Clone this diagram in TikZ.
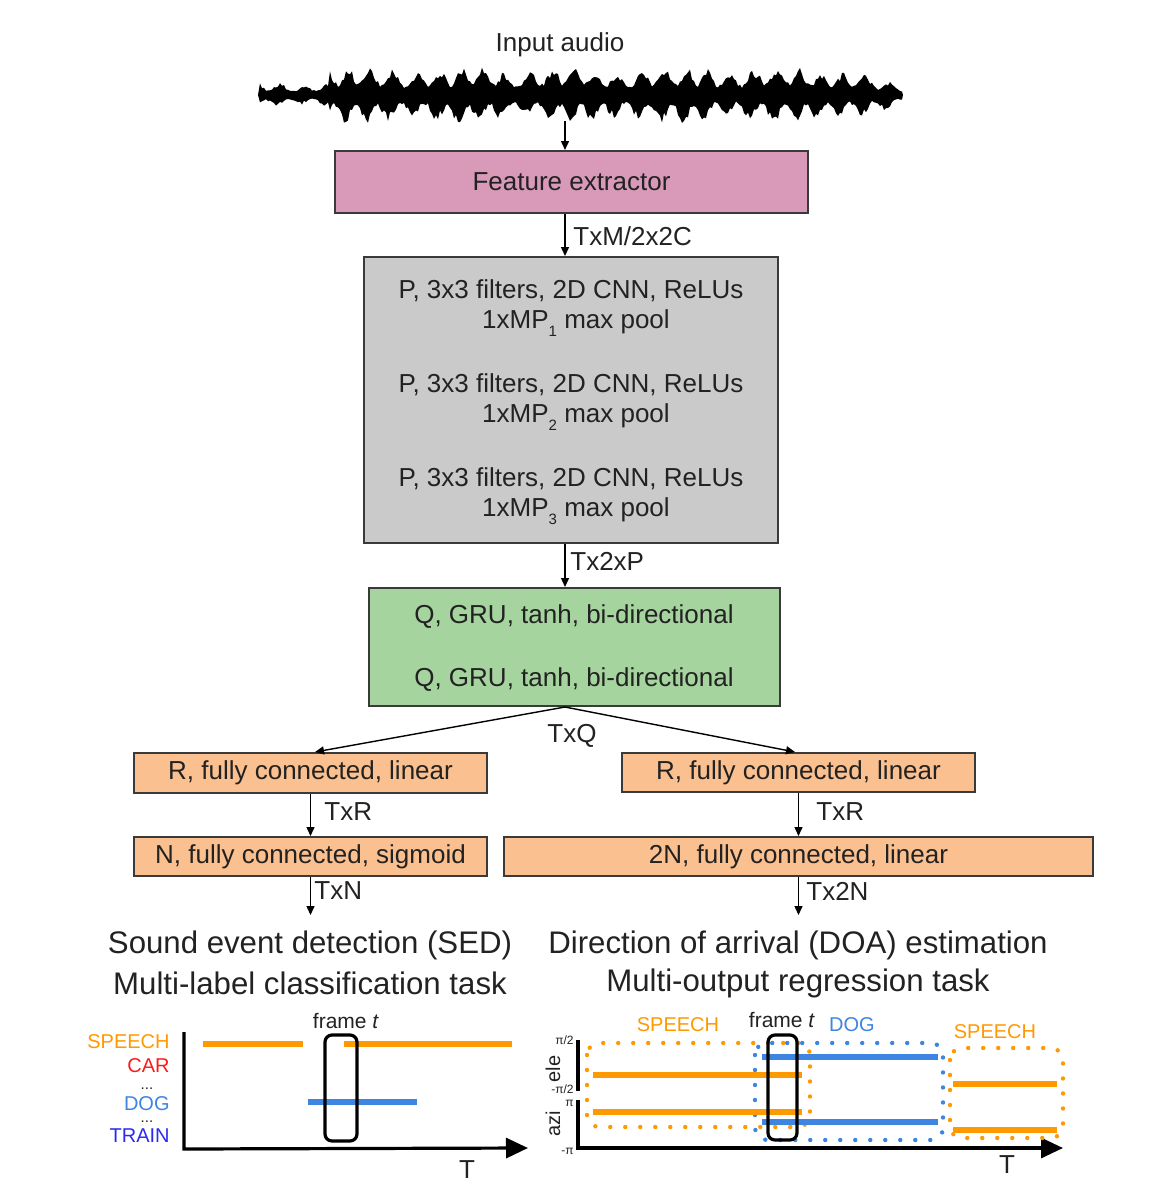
\documentclass[tikz,border=0pt]{standalone}
\usepackage{fontspec}
\setmainfont{Liberation Sans}
\usetikzlibrary{arrows.meta}
\definecolor{pinkc}{HTML}{D99AB9}
\definecolor{grayc}{HTML}{CACACA}
\definecolor{greenc}{HTML}{A6D49F}
\definecolor{orangec}{HTML}{FBC08F}
\definecolor{bordc}{HTML}{3A3A3A}
\definecolor{textc}{HTML}{222222}
\definecolor{sorange}{HTML}{FF9900}
\definecolor{sblue}{HTML}{3D85E0}
\definecolor{tblue}{HTML}{2B2BF0}
\definecolor{cred}{HTML}{FF1A1A}
\newcommand{\lowsub}[1]{\raisebox{-0.55ex}{\fontsize{7.5}{8}\selectfont #1}}
\begin{document}
\begin{tikzpicture}[x=0.5pt,y=-0.5pt,
  txt/.style={font=\fontsize{13}{15}\selectfont, text=textc, inner sep=0pt},
  ttl/.style={font=\fontsize{15.6}{18}\selectfont, text=textc, inner sep=0pt},
  lab/.style={font=\fontsize{10}{12}\selectfont, inner sep=0pt},
  ell/.style={font=\fontsize{7.5}{7.5}\selectfont, inner sep=0pt, text=textc},
  tick/.style={font=\fontsize{6}{7}\selectfont, text=textc, inner sep=0pt, anchor=east},
  box/.style={draw=bordc, line width=1pt, inner sep=0pt},
  arr/.style={draw=black, line width=0.7pt, -{Triangle[length=4.5pt,width=4pt]}},
  axisl/.style={draw=black, line width=1.6pt, -{Triangle[length=11pt,width=10pt]}},
  plain/.style={draw=black, line width=1.6pt},
  dots/.style={line width=2.2pt, line cap=round, dash pattern=on 0pt off 7.5pt},
  bar/.style={line width=3.4pt},
  framebox/.style={draw=black, line width=1.6pt, rounded corners=3.5pt},
  declare function={wenv(\x)=(\x<330)*12 + and(\x>=330,\x<845)*27 + (\x>=845)*(27-18*(\x-845)/58);
                    slowmod(\x)=0.7+0.3*abs(sin(1.7*\x+20));}
]
\useasboundingbox (0,0) rectangle (1158,1201);

% ---------- input audio ----------
\node[txt] (inaudio) at (560,45) {Input audio};
\pgfmathsetseed{5}
\fill[black] (258,95)
  \foreach \x in {260,262,...,902} { -- (\x,{95-wenv(\x)*slowmod(\x)*(0.42+0.58*abs(sin(8*\x+12*sin(3.1*\x)))^2)*(0.7+0.4*rnd)}) }
  -- (903,95)
  \foreach \x in {902,900,...,260} { -- (\x,{95+wenv(\x)*slowmod(\x)*(0.42+0.58*abs(sin(8*\x+30+12*sin(3.1*\x)))^2)*(0.7+0.4*rnd)}) }
  -- cycle;
\coordinate (wave) at (565,121);

% ---------- main boxes ----------
\node[box, fill=pinkc, minimum width=236.5pt, minimum height=31pt, txt] (feat) at (571.5,182) {Feature extractor};
\node[box, fill=grayc, minimum width=207pt, minimum height=143pt] (cnn) at (571,400) {};
\node[txt] (c1) at (571,291) {P, 3x3 filters, 2D CNN, ReLUs};
\node[txt] (c2) at (576,323) {1xMP\lowsub{1} max pool};
\node[txt] (c3) at (571,385) {P, 3x3 filters, 2D CNN, ReLUs};
\node[txt] (c4) at (576,417) {1xMP\lowsub{2} max pool};
\node[txt] (c5) at (571,479) {P, 3x3 filters, 2D CNN, ReLUs};
\node[txt] (c6) at (576,511) {1xMP\lowsub{3} max pool};

\node[box, fill=greenc, minimum width=205.5pt, minimum height=59pt] (gru) at (574.5,647) {};
\node[txt] (g1) at (574,617) {Q, GRU, tanh, bi-directional};
\node[txt] (g2) at (574,680) {Q, GRU, tanh, bi-directional};

\node[box, fill=orangec, minimum width=176.5pt, minimum height=20pt, txt] (rl) at (310.5,773) {R, fully connected, linear};
\node[box, fill=orangec, minimum width=176.5pt, minimum height=19.5pt, txt] (rr) at (798.5,772.5) {R, fully connected, linear};
\node[box, fill=orangec, minimum width=176.5pt, minimum height=19.5pt, txt] (nl) at (310.5,856.5) {N, fully connected, sigmoid};
\node[box, fill=orangec, minimum width=294.5pt, minimum height=19.5pt, txt] (nr) at (798.5,856.5) {2N, fully connected, linear};

% ---------- connectors ----------
\draw[arr] (wave) -- (wave |- feat.north);
\draw[arr] ([xshift=-3.25pt]feat.south) -- ([xshift=-3pt]cnn.north);
\node[txt, anchor=west] (l_tm) at (573,236) {TxM/2x2C};
\draw[arr] ([xshift=-3pt]cnn.south) -- ([xshift=-4.75pt]gru.north);
\node[txt, anchor=west] (l_tp) at (570,561) {Tx2xP};
\draw[arr] ([xshift=-4.75pt]gru.south) -- ([xshift=2.25pt]rl.north);
\draw[arr] ([xshift=-4.75pt]gru.south) -- ([xshift=-1.75pt]rr.north);
\node[txt] (l_tq) at (572,736) {TxQ};
\draw[arr] (rl.south) -- (nl.north);
\node[txt, anchor=west] (l_trl) at (324,812) {TxR};
\draw[arr] (rr.south) -- (nr.north);
\node[txt, anchor=west] (l_trr) at (816,812) {TxR};
\coordinate (outl) at (310.5,915);
\coordinate (outr) at (798.5,915);
\draw[arr] (nl.south) -- (outl);
\node[txt, anchor=west] (l_tn) at (314,891) {TxN};
\draw[arr] (nr.south) -- (outr);
\node[txt, anchor=west] (l_t2n) at (806,891) {Tx2N};

% ---------- titles ----------
\node[ttl] (sed1) at (310,945) {Sound event detection (SED)};
\node[ttl] (sed2) at (310,983) {Multi-label classification task};
\node[ttl] (doa1) at (798,945) {Direction of arrival (DOA) estimation};
\node[ttl] (doa2) at (798,983) {Multi-output regression task};

% ---------- SED plot ----------
\coordinate (sedtop) at (184,1032);
\coordinate (sedorig) at (184,1149);
\coordinate (sedend) at (528,1148);
\draw[axisl] (sedtop) -- (sedorig) -- (sedend);
\node[txt] (sedT) at (467,1170) {T};
\node[lab, anchor=east, text=sorange] (s_sp) at (170,1042) {SPEECH};
\node[lab, anchor=east, text=cred] (s_car) at (170,1066) {CAR};
\node[ell] (s_d1) at (147,1089) {...};
\node[lab, anchor=east, text=sblue] (s_dog) at (170,1104) {DOG};
\node[ell] (s_d2) at (147,1122) {...};
\node[lab, anchor=east, text=tblue] (s_tr) at (170,1136) {TRAIN};
\draw[bar, sorange] (203,1044) -- (303,1044);
\draw[bar, sorange] (344,1044) -- (512,1044);
\draw[bar, sblue] (308,1102) -- (417,1102);
\draw[framebox] (325,1035) rectangle (357,1141);
\node[lab, font=\fontsize{10.5}{12}\selectfont, text=textc] (s_fr) at (346,1021) {frame \textit{t}};

% ---------- DOA plot ----------
\draw[plain] (578,1040) -- (578,1091);
\draw[axisl] (578,1100) -- (578,1148) -- (1063,1148);
\node[txt] (doaT) at (1007,1165) {T};
\node[tick] (tk1) at (574,1040) {π/2};
\node[tick] (tk2) at (574,1089) {-π/2};
\node[tick] (tk3) at (574,1103) {π};
\node[tick] (tk4) at (574,1151) {-π};
\node[lab, rotate=90, text=textc] (ele) at (553,1069) {ele};
\node[lab, rotate=90, text=textc] (azi) at (553,1124) {azi};
\draw[dots, sorange, rounded corners=6pt] (587,1043) rectangle (810,1127);
\draw[dots, sblue, rounded corners=6pt] (755,1043) rectangle (943,1140);
\draw[dots, sorange, rounded corners=6pt] (950,1048) rectangle (1063,1138);
\draw[bar, sorange] (593,1075) -- (802,1075);
\draw[bar, sorange] (593,1112) -- (802,1112);
\draw[bar, sblue] (762,1057) -- (938,1057);
\draw[bar, sblue] (762,1122) -- (938,1122);
\draw[bar, sorange] (953,1084) -- (1057,1084);
\draw[bar, sorange] (953,1130) -- (1057,1130);
\draw[framebox] (768,1035) rectangle (797,1140);
\node[lab, font=\fontsize{10.5}{12}\selectfont, text=textc] (d_fr) at (782,1020) {frame \textit{t}};
\node[lab, text=sorange] (d_sp1) at (678,1025) {SPEECH};
\node[lab, text=sblue] (d_dog) at (852,1025) {DOG};
\node[lab, text=sorange] (d_sp2) at (995,1032) {SPEECH};
\end{tikzpicture}
\end{document}
